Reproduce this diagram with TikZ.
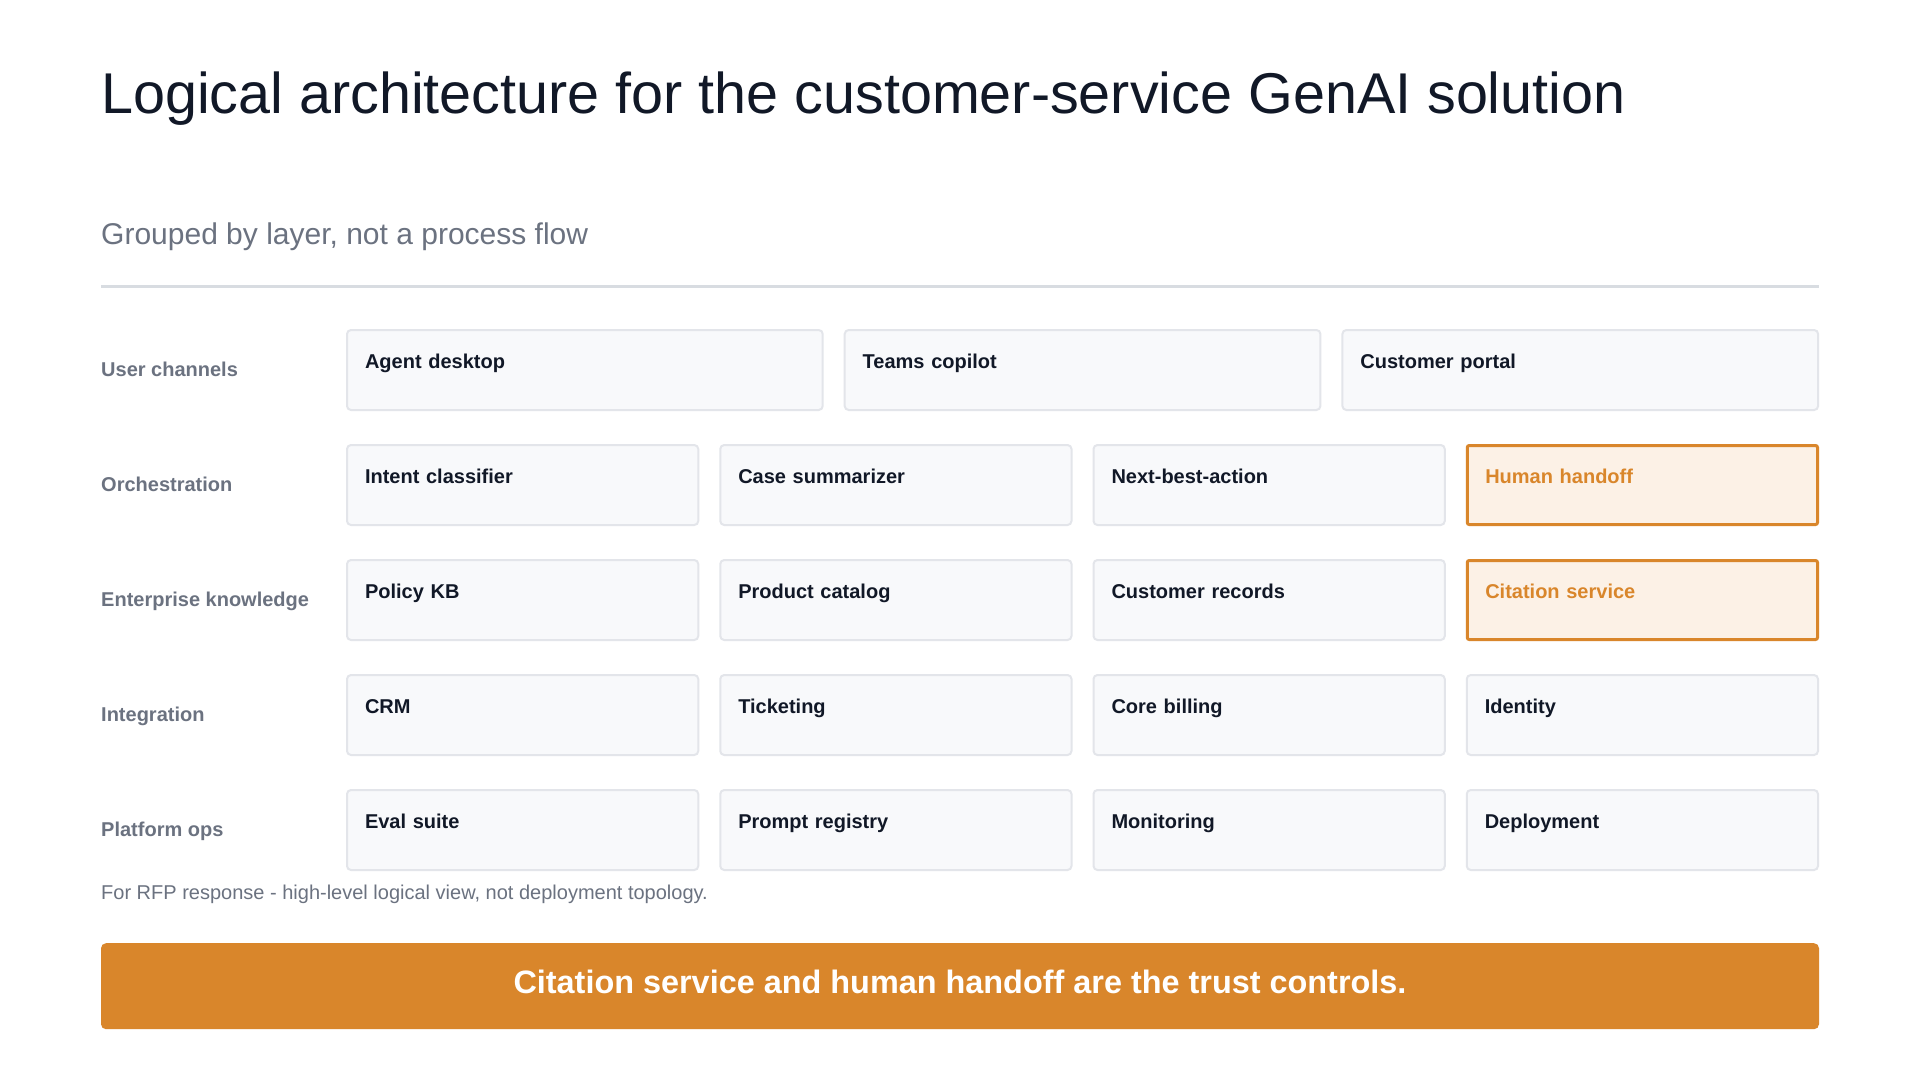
\documentclass[tikz,border=0pt]{standalone}
\usepackage{fontspec}
\setmainfont{Liberation Sans}
\usetikzlibrary{positioning}

\definecolor{inkdark}{HTML}{111827}
\definecolor{inkgray}{HTML}{6B7280}
\definecolor{rulegray}{HTML}{D8DCE1}
\definecolor{cellline}{HTML}{E3E5EA}
\definecolor{cellfill}{HTML}{F8F9FB}
\definecolor{trustorange}{HTML}{D9862B}
\definecolor{trustfill}{HTML}{FCF1E6}

\tikzset{
	layer/.style={anchor=base west,inner sep=0pt,font=\fontsize{20}{24}\selectfont\bfseries,text=inkgray},
	cell/.style={draw=cellline,line width=2pt,fill=cellfill,rounded corners=4pt,
		inner xsep=18pt,inner ysep=0pt,text height=38pt,text depth=42pt,
		text width=315.25pt,align=left,font=\fontsize{20}{24}\selectfont\bfseries,text=inkdark},
	cellwide/.style={cell,text width=439.7pt},
	trust/.style={cell,draw=trustorange,line width=3pt,fill=trustfill,text=trustorange,
		rounded corners=2pt,text width=314.25pt,text height=37.5pt,text depth=41.5pt},
}

\begin{document}
\begin{tikzpicture}[x=1pt,y=-1pt]
	\useasboundingbox[fill=white] (0,0) rectangle (1919,1080);

	% heading
	\node[anchor=base west,inner sep=0pt,font=\fontsize{57.5}{64}\selectfont,text=inkdark] (T) at (101,113) {Logical architecture for the customer-service GenAI solution};
	\node[anchor=base west,inner sep=0pt,font=\fontsize{30}{34}\selectfont,text=inkgray] (S) at (101,244) {Grouped by layer, not a process flow};
	\coordinate (RL) at (101,286);
	\coordinate (RR) at (1819,286);
	\draw[rulegray,line width=3pt] (RL) -- (RR);

	% user channels
	\node[layer] (L1) at (101,376) {User channels};
	\node[cellwide,anchor=north west] (UC1) at (346,329) {Agent desktop};
	\node[cellwide,right=20pt of UC1] (UC2) {Teams copilot};
	\node[cellwide,right=20pt of UC2] (UC3) {Customer portal};

	% orchestration
	\node[layer] (L2) at (101,491) {Orchestration};
	\node[cell,anchor=north west] (OR1) at (346,444) {Intent classifier};
	\node[cell,right=20pt of OR1] (OR2) {Case summarizer};
	\node[cell,right=20pt of OR2] (OR3) {Next-best-action};
	\node[trust,right=20pt of OR3] (OR4) {Human handoff};

	% enterprise knowledge
	\node[layer] (L3) at (101,606) {Enterprise knowledge};
	\node[cell,anchor=north west] (EK1) at (346,559) {Policy KB};
	\node[cell,right=20pt of EK1] (EK2) {Product catalog};
	\node[cell,right=20pt of EK2] (EK3) {Customer records};
	\node[trust,right=20pt of EK3] (EK4) {Citation service};

	% integration
	\node[layer] (L4) at (101,721) {Integration};
	\node[cell,anchor=north west] (IN1) at (346,674) {CRM};
	\node[cell,right=20pt of IN1] (IN2) {Ticketing};
	\node[cell,right=20pt of IN2] (IN3) {Core billing};
	\node[cell,right=20pt of IN3] (IN4) {Identity};

	% platform ops
	\node[layer] (L5) at (101,836) {Platform ops};
	\node[cell,anchor=north west] (PO1) at (346,789) {Eval suite};
	\node[cell,right=20pt of PO1] (PO2) {Prompt registry};
	\node[cell,right=20pt of PO2] (PO3) {Monitoring};
	\node[cell,right=20pt of PO3] (PO4) {Deployment};

	% footer
	\node[anchor=base west,inner sep=0pt,font=\fontsize{20}{24}\selectfont,text=inkgray] (N) at (101,899) {For RFP response - high-level logical view, not deployment topology.};
	\node[fill=trustorange,rounded corners=5pt,minimum width=1718pt,inner xsep=0pt,inner ysep=0pt,
		text height=50pt,text depth=36pt,anchor=north,font=\fontsize{32.4}{36}\selectfont\bfseries,text=white] (B) at (960,943) {Citation service and human handoff are the trust controls.};

\end{tikzpicture}
\end{document}
